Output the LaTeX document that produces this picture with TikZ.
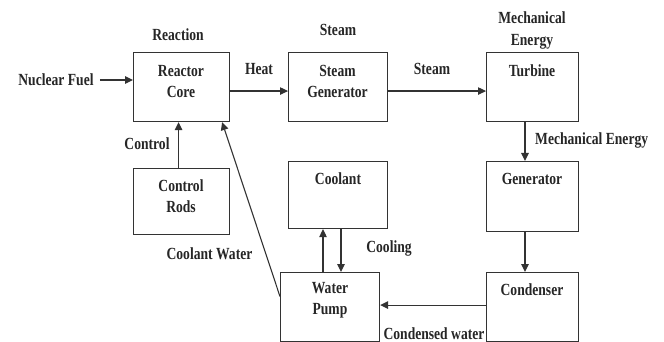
\documentclass[tikz,border=0pt]{standalone}
\usepackage{fontspec}
\setmainfont{Liberation Serif}
\usetikzlibrary{arrows.meta,calc}
\begin{document}
\begin{tikzpicture}[x=1pt,y=1pt,
  box/.style={draw=black!80, line width=1.1pt, minimum width=96pt, minimum height=69pt, anchor=north west, inner sep=0pt},
  txt/.style={font=\fontsize{13.6}{17}\selectfont\bfseries, text=black!85, align=center, inner sep=0pt, yscale=1.25},
  arr/.style={draw=black!80, line width=1.1pt, -{Triangle[length=8pt,width=7.5pt]}}]
\useasboundingbox (0,0) rectangle (664,-342);
% boxes
\node[box] (rc) at (133,-52) {};
\node[box, minimum width=99pt] (sg) at (288,-52) {};
\node[box, minimum width=92pt] (tb) at (486,-52) {};
\node[box, minimum width=92pt, minimum height=70pt] (gn) at (486,-161) {};
\node[box, minimum width=92pt, minimum height=69pt] (cd) at (486,-272) {};
\node[box, minimum width=99pt, minimum height=69pt] (wp) at (280,-272) {};
\node[box, minimum width=99pt, minimum height=67pt] (cl) at (288,-161) {};
\node[box, minimum width=96pt, minimum height=66pt] (cr) at (133,-168) {};
% box texts
\node[txt] (rct) at (181,-81.5) {Reactor\\Core};
\node[txt] (sgt) at (337.5,-81.5) {Steam\\Generator};
\node[txt] (tbt) at (532,-71) {Turbine};
\node[txt] (gnt) at (532,-179) {Generator};
\node[txt] (cdt) at (532,-290) {Condenser};
\node[txt] (wpt) at (330,-300.5) {Water\\Pump};
\node[txt] (clt) at (338,-179) {Coolant};
\node[txt] (crt) at (181,-196.5) {Control\\Rods};
% outside labels
\node[txt] (nf) at (56,-80) {Nuclear Fuel};
\node[txt] (reac) at (178,-35) {Reaction};
\node[txt] (stl) at (338,-30) {Steam};
\node[txt] (mel) at (532,-30.5) {Mechanical\\Energy};
\node[txt] (heat) at (259,-69) {Heat};
\node[txt] (st2) at (432,-69) {Steam};
\node[txt, anchor=west] (me2) at (535,-140) {Mechanical Energy};
\node[txt] (ctl) at (147,-144) {Control};
\node[txt] (cw) at (209.5,-254) {Coolant Water};
\node[txt] (cool) at (389,-248) {Cooling};
\node[txt] (cwat) at (434,-334) {Condensed water};
% helper coordinates
\coordinate (nfe) at ($(nf.east)+(6,0)$);
\coordinate (wpu) at ($(wp.north west)+(43,0)$);
\coordinate (cld) at ($(cl.south west)+(53,0)$);
\coordinate (crn) at ($(cr.north)+(-3,0)$);
% connectors
\draw[arr] (nfe) -- (nfe -| rc.west);
\draw[arr] ($(rc.east)+(0,-4)$) -- ($(sg.west)+(0,-4)$);
\draw[arr] ($(sg.east)+(0,-4)$) -- ($(tb.west)+(0,-4)$);
\draw[arr] ($(tb.south west)+(39,0)$) -- ($(gn.north west)+(39,0)$);
\draw[arr] ($(gn.south west)+(39,0)$) -- ($(cd.north west)+(39,0)$);
\draw[arr] ($(cd.west)+(0,2)$) -- ($(wp.east)+(0,2)$);
\draw[arr] (wpu) -- (wpu |- cl.south);
\draw[arr] (cld) -- (cld |- wp.north);
\draw[arr] ($(wp.west)+(0,10.5)$) -- ($(rc.south east)+(-8,0)$);
\draw[arr] (crn) -- (crn |- rc.south);
\end{tikzpicture}
\end{document}
